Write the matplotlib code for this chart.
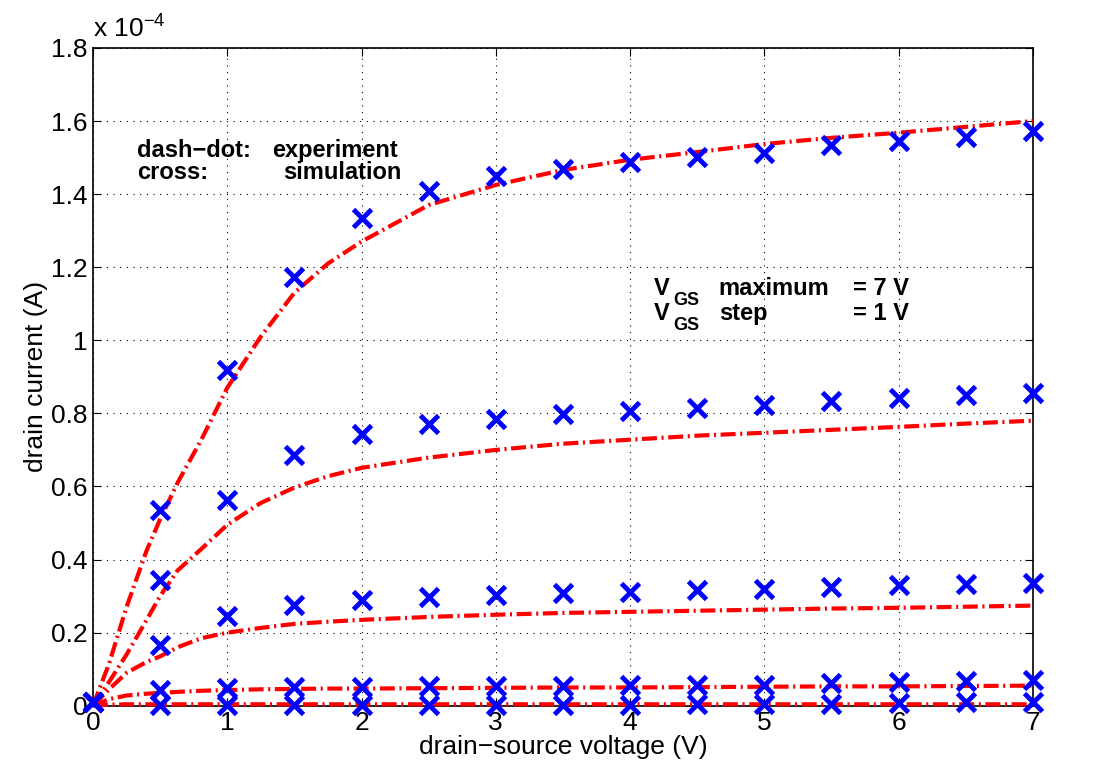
import numpy as np
import matplotlib
matplotlib.use('Agg')
import matplotlib.pyplot as plt
from matplotlib.ticker import FormatStrFormatter

plt.rcParams['font.family'] = ['Liberation Sans', 'DejaVu Sans']
plt.rcParams['mathtext.fontset'] = 'custom'
plt.rcParams['mathtext.rm'] = 'Liberation Sans'

# drain-source voltage (V)
vds = [0, 0.5, 1, 1.5, 2, 2.5, 3, 3.5, 4, 4.5, 5, 5.5, 6, 6.5, 7]

# simulation (crosses), drain current in units of 1e-4 A
sim_7 = [0.01, 0.536, 0.919, 1.174, 1.335, 1.409, 1.45, 1.469, 1.488, 1.502, 1.513, 1.535, 1.546, 1.557, 1.573]
sim_6 = [0.01, 0.345, 0.564, 0.687, 0.744, 0.772, 0.785, 0.799, 0.807, 0.815, 0.824, 0.834, 0.843, 0.851, 0.856]
sim_5 = [0.01, 0.167, 0.246, 0.276, 0.290, 0.298, 0.304, 0.309, 0.312, 0.317, 0.320, 0.326, 0.331, 0.334, 0.337]
sim_4 = [0.01, 0.044, 0.049, 0.052, 0.052, 0.053, 0.054, 0.055, 0.056, 0.057, 0.058, 0.062, 0.065, 0.068, 0.071]
sim_3 = [0.01, 0.002, 0.002, 0.002, 0.002, 0.002, 0.003, 0.003, 0.003, 0.004, 0.005, 0.006, 0.007, 0.009, 0.011]

# experiment (dash-dot), same units
exp_v = [0, 0.12, 0.25, 0.4, 0.5, 0.63, 0.81, 1, 1.25, 1.5, 1.75, 2, 2.5, 3, 3.5, 4, 4.5, 5, 5.5, 6, 6.5, 7]
exp_7 = [0, 0.115, 0.27, 0.425, 0.51, 0.61, 0.73, 0.87, 1.01, 1.13, 1.21, 1.27, 1.37, 1.425, 1.466, 1.494, 1.515, 1.537, 1.554, 1.568, 1.584, 1.60]
exp_6 = [0, 0.065, 0.14, 0.235, 0.30, 0.37, 0.43, 0.495, 0.555, 0.597, 0.628, 0.651, 0.679, 0.70, 0.717, 0.728, 0.739, 0.747, 0.755, 0.763, 0.772, 0.78]
exp_5 = [0, 0.045, 0.09, 0.12, 0.135, 0.16, 0.185, 0.20, 0.213, 0.224, 0.230, 0.235, 0.243, 0.249, 0.254, 0.257, 0.260, 0.263, 0.266, 0.268, 0.271, 0.274]
exp_4 = [0, 0.018, 0.028, 0.033, 0.035, 0.038, 0.041, 0.043, 0.045, 0.046, 0.047, 0.047, 0.048, 0.049, 0.050, 0.050, 0.051, 0.052, 0.053, 0.053, 0.054, 0.055]
exp_3 = [0, 0.003, 0.004, 0.004, 0.004, 0.004, 0.004, 0.004, 0.004, 0.004, 0.004, 0.004, 0.004, 0.004, 0.004, 0.004, 0.004, 0.004, 0.004, 0.004, 0.004, 0.004]

fig = plt.figure(figsize=(11, 7.73), dpi=100)
ax = fig.add_axes([0.0845, 0.087, 0.8545, 0.851])

for e in [exp_7, exp_6, exp_5, exp_4, exp_3]:
    ax.plot(exp_v, e, color='red', lw=3, dashes=(3.6, 1.1, 0.5, 1.1), clip_on=False, zorder=3)

for s in [sim_7, sim_6, sim_5, sim_4, sim_3]:
    ax.plot(vds, s, 'x', color=(0, 0, 1), ms=13, mew=3.5, clip_on=False, zorder=4)

ax.set_xlim(0, 7)
ax.set_ylim(0, 1.8)
ax.set_xticks(np.arange(0, 8, 1))
ax.set_yticks(np.arange(0, 1.81, 0.2))
ax.yaxis.set_major_formatter(FormatStrFormatter('%g'))
ax.tick_params(direction='in', labelsize=19, length=6, top=True, right=True, pad=4)
ax.grid(True, color='black', linestyle=(0, (1, 5)), lw=0.8)
for sp in ax.spines.values():
    sp.set_linewidth(1.2)

ax.set_xlabel('drain\u2212source voltage (V)', fontsize=19, labelpad=0)
ax.set_ylabel('drain current (A)', fontsize=19, labelpad=2)

ax.text(0.0, 1.01, r'x 10$^{\mathregular{-4}}$', transform=ax.transAxes,
        fontsize=19, ha='left', va='bottom')

ax.text(0.33, 1.502, 'dash\u2212dot:', fontsize=17, fontweight='bold')
ax.text(1.333, 1.502, 'experiment', fontsize=17, fontweight='bold')
ax.text(0.33, 1.442, 'cross:', fontsize=17, fontweight='bold')
ax.text(1.415, 1.442, 'simulation', fontsize=17, fontweight='bold')

for yb, word, val in [(1.124, 'maximum', '= 7 V'), (1.056, 'step', '= 1 V')]:
    ax.text(4.18, yb, 'V', fontsize=17, fontweight='bold')
    ax.text(4.325, yb - 0.027, 'GS', fontsize=13, fontweight='bold')
    ax.text(4.66, yb, word, fontsize=17, fontweight='bold')
    ax.text(5.66, yb, val, fontsize=17, fontweight='bold')

fig.savefig('out.png', dpi=100)
